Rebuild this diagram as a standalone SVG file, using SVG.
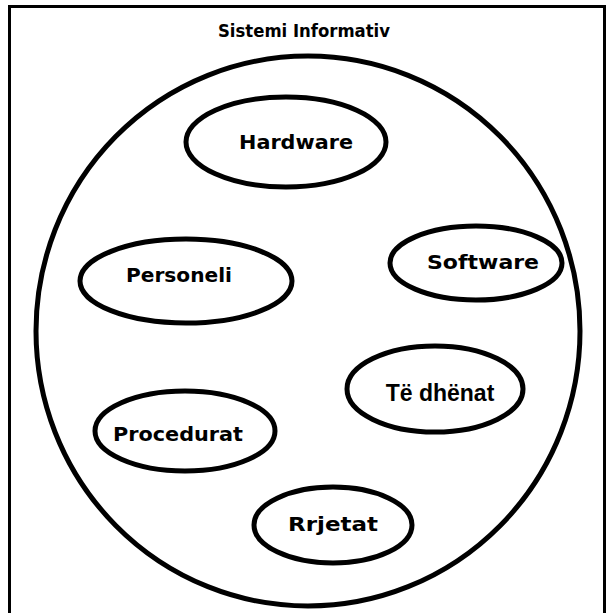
<svg xmlns="http://www.w3.org/2000/svg" width="607" height="613" viewBox="0 0 607 613">
<style>
.n{fill:#fff;stroke:#000;stroke-width:5}
.t{font-family:"DejaVu Sans",sans-serif;font-weight:bold;font-size:19px;fill:#000;text-anchor:middle}
.h{font-family:"DejaVu Sans",sans-serif;font-weight:bold;font-size:17px;fill:#000;text-anchor:middle}
.a{font-family:"Liberation Sans",Arial,sans-serif;font-weight:bold;font-size:23px;fill:#000;text-anchor:middle}
</style>
<rect x="0" y="0" width="607" height="613" fill="#fff"/>
<path d="M9.5,620 V6.5 H604.5 V620" fill="none" stroke="#000" stroke-width="3"/>
<text class="h" x="304" y="37" textLength="172" lengthAdjust="spacingAndGlyphs">Sistemi Informativ</text>
<g id="system"><ellipse class="n" cx="308" cy="331" rx="272" ry="275"/></g>
<g id="hardware"><ellipse class="n" cx="286" cy="142" rx="100" ry="45"/><text class="t" x="296" y="149" textLength="114" lengthAdjust="spacingAndGlyphs">Hardware</text></g>
<g id="personeli"><ellipse class="n" cx="186" cy="281" rx="106" ry="42"/><text class="t" x="179" y="282" textLength="106" lengthAdjust="spacingAndGlyphs">Personeli</text></g>
<g id="software"><ellipse class="n" cx="476" cy="263" rx="86" ry="37"/><text class="t" x="483" y="269" textLength="112" lengthAdjust="spacingAndGlyphs">Software</text></g>
<g id="tedhenat"><ellipse class="n" cx="435" cy="389" rx="88" ry="43"/><text class="a" x="440" y="401">Të dhënat</text></g>
<g id="procedurat"><ellipse class="n" cx="185" cy="431" rx="90" ry="40"/><text class="t" x="178" y="441" textLength="130" lengthAdjust="spacingAndGlyphs">Procedurat</text></g>
<g id="rrjetat"><ellipse class="n" cx="333" cy="525" rx="79" ry="38"/><text class="t" x="333" y="531" textLength="90" lengthAdjust="spacingAndGlyphs">Rrjetat</text></g>
<g id="connectors"/>
</svg>
